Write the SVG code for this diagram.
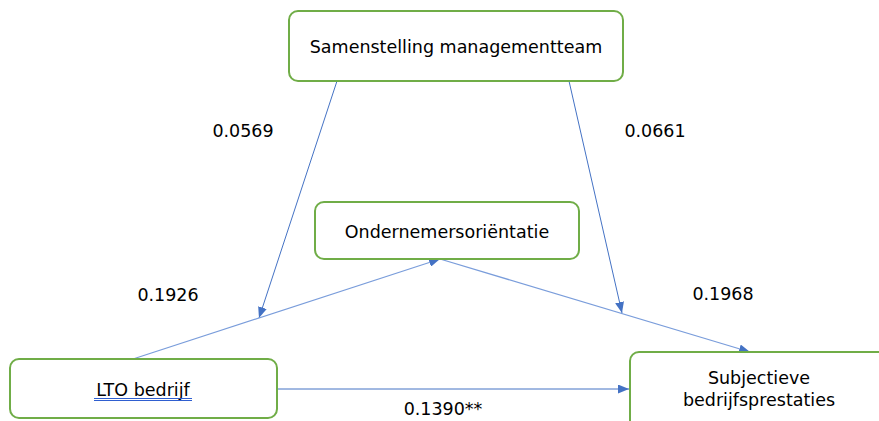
<svg xmlns="http://www.w3.org/2000/svg" width="879" height="421" viewBox="0 0 879 421">
<defs>
<style>
.box{fill:#fff;stroke:#70AD47;stroke-width:2}
.t{font-family:"DejaVu Sans",Verdana,sans-serif;font-size:17.5px;fill:#000;text-anchor:middle}
.c{stroke:#4472C4;stroke-width:1;fill:none}
.c2{stroke:#7A9DDB;stroke-width:1.3;fill:none}
</style>
<marker id="ah" viewBox="0 0 11 9" refX="11" refY="4.5" markerWidth="11" markerHeight="9" markerUnits="userSpaceOnUse" orient="auto">
<path d="M0,0 L11,4.5 L0,9 Z" fill="#4472C4"/>
</marker>
</defs>
<rect width="879" height="421" fill="#fff"/>
<g id="connectors">
<line class="c" x1="337" y1="81" x2="259" y2="318" marker-end="url(#ah)"/>
<line class="c" x1="569" y1="81" x2="622" y2="313" marker-end="url(#ah)"/>
<line class="c2" x1="133" y1="359" x2="440" y2="259" marker-end="url(#ah)"/>
<line class="c2" x1="440" y1="259" x2="750" y2="352" marker-end="url(#ah)"/>
<line class="c" x1="277" y1="389" x2="629" y2="389" marker-end="url(#ah)"/>
</g>
<g id="samenstelling">
<rect class="box" x="289" y="11" width="334" height="70" rx="9"/>
<text class="t" x="456" y="53">Samenstelling managementteam</text>
</g>
<g id="ondernemersorientatie">
<rect class="box" x="315" y="202" width="264" height="57" rx="9"/>
<text class="t" x="447" y="238">Ondernemersoriëntatie</text>
</g>
<g id="lto">
<rect class="box" x="10" y="359" width="267" height="59" rx="9"/>
<text class="t" x="143" y="396">LTO bedrijf</text>
<line x1="94" y1="398.5" x2="192" y2="398.5" stroke="#2F5FD0" stroke-width="1"/>
<line x1="94" y1="400.5" x2="192" y2="400.5" stroke="#2F5FD0" stroke-width="1"/>
</g>
<g id="subjectieve">
<rect class="box" x="630" y="352" width="260" height="80" rx="9"/>
<text class="t" x="759" y="384">Subjectieve</text>
<text class="t" x="759" y="406">bedrijfsprestaties</text>
</g>
<g id="labels">
<text class="t" x="243" y="137">0.0569</text>
<text class="t" x="655" y="137">0.0661</text>
<text class="t" x="168" y="301">0.1926</text>
<text class="t" x="723" y="300">0.1968</text>
<text class="t" x="443" y="415">0.1390**</text>
</g>
</svg>
